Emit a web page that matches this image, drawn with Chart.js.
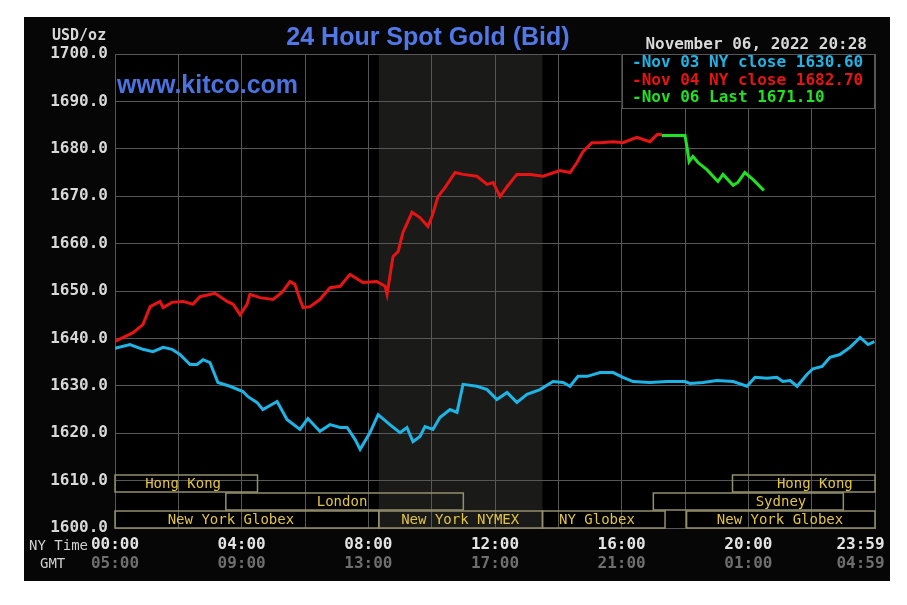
<!DOCTYPE html>
<html>
<head>
<meta charset="utf-8">
<script src="https://cdn.jsdelivr.net/npm/chart.js@4.4.0/dist/chart.umd.min.js"></script>
<style>
  html, body { margin: 0; padding: 0; background: #ffffff; }
  #wrap { position: relative; width: 907px; height: 605px; }
  canvas { display: block; }
</style>
</head>
<body>
<div id="wrap"><canvas id="c" width="907" height="605"></canvas></div>
<script>
// ---------- data (hours NY time, USD/oz) ----------
const nov03Hours = [0,0.47,0.88,1.20,1.52,1.80,2.05,2.37,2.59,2.78,3.00,3.25,3.63,4.04,4.20,4.48,4.67,5.12,5.43,5.84,6.09,6.47,6.79,7.11,7.33,7.58,7.74,8.05,8.31,8.68,9.00,9.22,9.41,9.63,9.79,10.04,10.26,10.58,10.80,10.99,11.43,11.75,12.06,12.38,12.69,13.01,13.42,13.83,14.15,14.37,14.62,14.91,15.32,15.73,16.04,16.36,16.89,17.43,18.00,18.16,18.57,19.01,19.52,19.96,20.21,20.59,20.90,21.09,21.32,21.54,21.85,22.04,22.33,22.58,22.89,23.21,23.53,23.78,23.98];
const nov03Values = [1637.9,1638.7,1637.7,1637.2,1638.1,1637.7,1636.6,1634.5,1634.5,1635.5,1634.9,1630.7,1629.9,1628.8,1627.7,1626.5,1625.0,1626.7,1622.9,1620.8,1623.1,1620.4,1621.8,1621.2,1621.2,1618.7,1616.6,1620.1,1623.9,1621.8,1620.1,1621.2,1618.2,1619.3,1621.4,1620.8,1623.3,1625.0,1624.4,1630.3,1629.9,1629.2,1627.1,1628.6,1626.5,1628.2,1629.2,1630.9,1630.7,1629.9,1632.0,1632.0,1632.8,1632.8,1631.8,1630.9,1630.7,1630.9,1630.9,1630.5,1630.7,1631.1,1630.9,1629.9,1631.8,1631.6,1631.8,1630.9,1631.1,1629.9,1632.4,1633.6,1634.1,1636.0,1636.6,1638.1,1640.2,1638.7,1639.3];

const nov04Hours = [0,0.57,0.88,1.11,1.42,1.52,1.80,2.15,2.46,2.68,3.16,3.54,3.73,3.95,4.17,4.26,4.58,4.99,5.27,5.53,5.68,5.84,5.94,6.16,6.47,6.79,7.11,7.42,7.83,8.27,8.53,8.59,8.78,8.94,9.09,9.38,9.63,9.88,10.01,10.20,10.42,10.74,10.99,11.43,11.75,11.94,12.16,12.38,12.69,13.11,13.52,14.05,14.37,14.59,14.78,15.06,15.32,15.73,16.04,16.48,16.89,17.12,17.27];
const nov04Values = [1639.35,1641.2,1642.9,1646.7,1647.8,1646.5,1647.6,1647.8,1647.2,1648.8,1649.5,1647.8,1647.2,1645.0,1647.2,1649.3,1648.6,1648.2,1649.7,1652.0,1651.4,1648.2,1646.5,1646.7,1648.2,1650.7,1651.0,1653.5,1651.8,1652.0,1651.0,1649.3,1657.3,1658.3,1662.3,1666.6,1665.5,1663.6,1665.7,1669.9,1671.8,1675.0,1674.6,1674.2,1672.5,1672.9,1669.9,1672.0,1674.6,1674.6,1674.2,1675.4,1675.0,1677.1,1679.4,1681.3,1681.3,1681.5,1681.3,1682.4,1681.5,1683.0,1683.0];

const nov06Hours = [17.27,18.00,18.06,18.13,18.25,18.41,18.69,19.04,19.20,19.52,19.67,19.89,20.15,20.30,20.49];
const nov06Values = [1682.8,1682.8,1680.5,1677.3,1678.4,1677.1,1675.6,1673.1,1674.6,1672.3,1672.9,1675.0,1673.5,1672.5,1671.2];

const legendLabels = ['Nov 03 NY close 1630.60', 'Nov 04 NY close 1682.70', 'Nov 06 Last 1671.10'];

const xTickHours = [0, 4, 8, 12, 16, 20, 24];
const nyTimeLabels = ['00:00', '04:00', '08:00', '12:00', '16:00', '20:00', '23:59'];
const gmtLabels = ['05:00', '09:00', '13:00', '17:00', '21:00', '01:00', '04:59'];

const nymexStart = 8.33, nymexEnd = 13.5;

const sessionNames = ['Hong Kong', 'Hong Kong', 'London', 'Sydney', 'New York Globex', 'New York NYMEX', 'NY Globex', 'New York Globex'];
const sessionStart = [0, 19.5, 3.5, 17.0, 0, 8.33, 13.5, 18.05];
const sessionEnd   = [4.5, 24, 11.0, 23.0, 8.33, 13.5, 17.37, 24];
const sessionRow   = [0, 0, 1, 1, 2, 2, 2, 2];
const sessionLabelAt = [2.15, 22.1, 7.17, 21.03, 3.66, 10.9, 15.22, 21.0];

// ---------- styles ----------
const MONO = '"DejaVu Sans Mono", "Liberation Mono", monospace';
const SANS = '"Liberation Sans", Arial, sans-serif';
const cCyan = '#1eb4e6', cRed = '#e61414', cGreen = '#22e022';
const gridColor = '#575757';

function pts(h, v) { return h.map((x, i) => ({ x: x, y: v[i] })); }

const bgPlugin = {
  id: 'bg',
  beforeDraw(chart) {
    const ctx = chart.ctx, a = chart.chartArea, xs = chart.scales.x;
    ctx.save();
    ctx.fillStyle = '#ffffff';
    ctx.fillRect(0, 0, chart.width, chart.height);
    ctx.fillStyle = '#060606';
    ctx.fillRect(24, 17, 866, 564);
    ctx.fillStyle = '#000000';
    ctx.fillRect(a.left, a.top, a.right - a.left, a.bottom - a.top);
    const s = xs.getPixelForValue(nymexStart), e = xs.getPixelForValue(nymexEnd);
    ctx.fillStyle = '#1a1a18';
    ctx.fillRect(s, a.top, e - s, a.bottom - a.top);
    ctx.restore();
  },
  afterDraw(chart) {
    const ctx = chart.ctx, a = chart.chartArea, xs = chart.scales.x;
    ctx.save();
    // title
    ctx.textBaseline = 'alphabetic';
    ctx.textAlign = 'center';
    ctx.fillStyle = '#5078e6';
    ctx.font = 'bold 25px ' + SANS;
    ctx.fillText('24 Hour Spot Gold (Bid)', 428, 45);
    ctx.textAlign = 'left';
    ctx.fillStyle = '#4a73e0';
    ctx.font = 'bold 25px ' + SANS;
    ctx.fillText('www.kitco.com', 117, 93);
    // unit and date
    ctx.textBaseline = 'middle';
    ctx.fillStyle = '#d8d8d8';
    ctx.font = 'bold 15px ' + MONO;
    ctx.textAlign = 'left';
    ctx.fillText('USD/oz', 52, 36);
    ctx.font = 'bold 16px ' + MONO;
    ctx.textAlign = 'right';
    ctx.fillText('November 06, 2022 20:28', 867, 45);
    // legend box
    const lx = xs.getPixelForValue(16);
    ctx.fillStyle = '#000000';
    ctx.fillRect(lx, a.top, a.right - lx, 54);
    ctx.strokeStyle = gridColor;
    ctx.lineWidth = 1;
    ctx.strokeRect(Math.round(lx) + 0.5, a.top + 0.5, a.right - Math.round(lx) - 1, 54);
    const lcols = [cCyan, cRed, cGreen];
    ctx.textAlign = 'left';
    ctx.font = 'bold 16px ' + MONO;
    for (let i = 0; i < legendLabels.length; i++) {
      ctx.fillStyle = lcols[i];
      ctx.fillText('-' + legendLabels[i], 632, 63 + i * 17.5);
    }
    // sessions
    ctx.font = '14px ' + MONO;
    ctx.lineWidth = 1.5;
    for (let i = 0; i < sessionNames.length; i++) {
      const r = sessionRow[i];
      const top = a.bottom - 53 + r * 18, h = 17;
      const x0 = xs.getPixelForValue(sessionStart[i]), x1 = xs.getPixelForValue(sessionEnd[i]);
      ctx.strokeStyle = '#948f6c';
      ctx.strokeRect(x0, top, x1 - x0, h);
      ctx.fillStyle = '#e2c444';
      ctx.textAlign = 'center';
      ctx.fillText(sessionNames[i], xs.getPixelForValue(sessionLabelAt[i]), top + h / 2 + 1);
    }
    // axis captions
    ctx.font = '14px ' + MONO;
    ctx.textAlign = 'left';
    ctx.fillStyle = '#d0d0d0';
    ctx.fillText('NY Time', 29, 546);
    ctx.fillText('GMT', 40, 564);
    ctx.font = 'bold 16px ' + MONO;
    ctx.fillStyle = '#6e6e6e';
    ctx.textAlign = 'center';
    for (let i = 0; i < gmtLabels.length; i++) {
      const t = i === gmtLabels.length - 1 ? gmtLabels[i] + '   ' : gmtLabels[i];
      ctx.fillText(t, xs.getPixelForValue(xTickHours[i]), 564);
    }
    ctx.restore();
  }
};

new Chart(document.getElementById('c'), {
  type: 'line',
  data: {
    datasets: [
      { label: legendLabels[0], data: pts(nov03Hours, nov03Values), borderColor: cCyan, borderWidth: 3, pointRadius: 0, tension: 0, order: 3 },
      { label: legendLabels[1], data: pts(nov04Hours, nov04Values), borderColor: cRed, borderWidth: 3, pointRadius: 0, tension: 0, order: 2 },
      { label: legendLabels[2], data: pts(nov06Hours, nov06Values), borderColor: cGreen, borderWidth: 3, pointRadius: 0, tension: 0, order: 1 }
    ]
  },
  options: {
    responsive: false,
    animation: false,
    events: [],
    layout: { padding: { left: 0, right: 32, top: 54, bottom: 0 } },
    plugins: { legend: { display: false }, tooltip: { enabled: false }, title: { display: false } },
    scales: {
      x: {
        type: 'linear', min: 0, max: 24,
        grid: { color: gridColor, lineWidth: 1, drawTicks: false },
        border: { display: true, color: gridColor },
        ticks: {
          stepSize: 2, autoSkip: false, maxRotation: 0, padding: 7,
          color: '#e4e4e4', font: { family: MONO, size: 16, weight: 'bold' },
          callback: (v) => {
            const i = xTickHours.indexOf(v);
            if (i < 0) return '';
            return i === xTickHours.length - 1 ? nyTimeLabels[i] + '   ' : nyTimeLabels[i];
          }
        },
        afterFit: (s) => { s.height = 77; s.paddingLeft = 0; s.paddingRight = 0; }
      },
      y: {
        type: 'linear', min: 1600, max: 1700,
        grid: { color: gridColor, lineWidth: 1, drawTicks: false },
        border: { display: true, color: gridColor },
        ticks: {
          stepSize: 10, padding: 7,
          color: '#d8d8d8', font: { family: MONO, size: 16, weight: 'bold' },
          callback: (v) => Number(v).toFixed(1)
        },
        afterFit: (s) => { s.width = 115; s.paddingTop = 0; s.paddingBottom = 0; }
      }
    }
  },
  plugins: [bgPlugin]
});
</script>
</body>
</html>
